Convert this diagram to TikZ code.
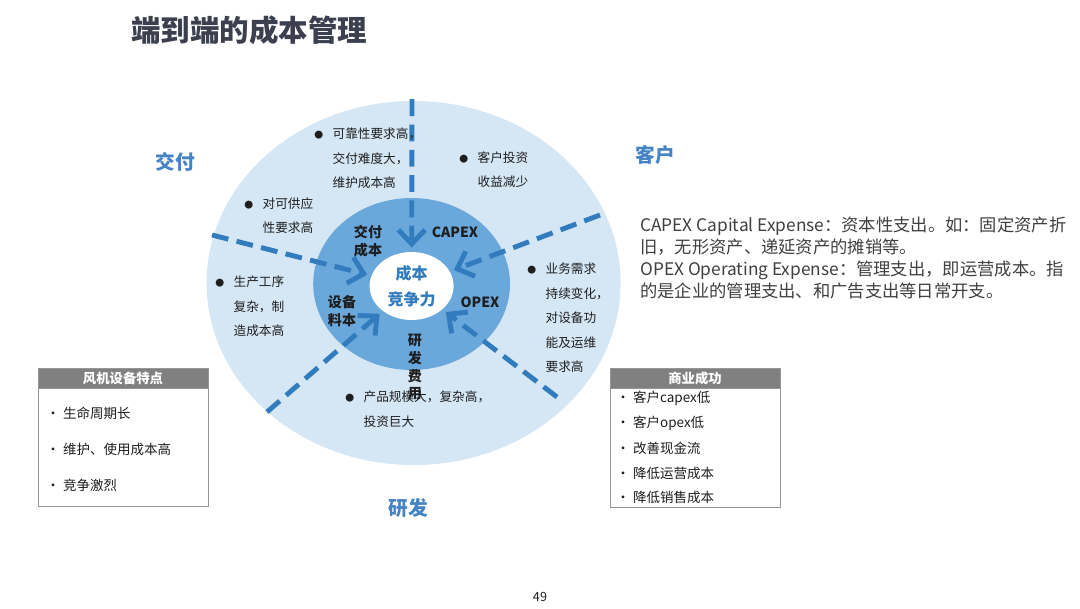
\documentclass[tikz,border=0pt]{standalone}
\usepackage{graphicx}
\usepackage{fontspec}
\setmainfont{Noto Sans CJK SC}
\usetikzlibrary{shapes.geometric,arrows.meta}

\definecolor{ringlight}{RGB}{213,231,245}
\definecolor{ringmid}{RGB}{106,168,220}
\definecolor{rayblue}{RGB}{50,124,190}
\definecolor{lblblue}{RGB}{68,132,197}
\definecolor{titlegray}{RGB}{60,64,78}
\definecolor{txtgray}{RGB}{30,30,30}
\definecolor{notegray}{RGB}{64,64,64}
\definecolor{headgray}{RGB}{128,128,128}
\definecolor{boxgray}{RGB}{150,150,150}

\newcommand{\rbul}{\makebox[1.45em][l]{\scalebox{0.7}{●}}}
\newcommand{\rind}{\hspace*{1.45em}}
\newcommand{\pbul}{\makebox[0.42cm][l]{•}}

\begin{document}
\begin{tikzpicture}[
  ringtxt/.style={anchor=north west, inner sep=0, align=left, text=txtgray,
    font=\fontsize{9}{17.35}\selectfont},
  midlbl/.style={inner sep=0, align=center, text=txtgray,
    font=\bfseries\fontsize{10}{12.8}\selectfont},
  sidelbl/.style={inner sep=0, text=lblblue, font=\bfseries\fontsize{14}{16}\selectfont},
  ray/.style={draw=rayblue, line width=3.5pt, dash pattern=on 12pt off 6pt,
    -{Straight Barb[length=10pt,width=19pt]}, shorten >=3pt},
  panel/.style={draw=boxgray, fill=white, inner sep=0, minimum width=4.25cm},
  panelhead/.style={draw=boxgray, fill=headgray, text=white, inner sep=0,
    minimum width=4.25cm, minimum height=0.5cm,
    font=\bfseries\fontsize{9.5}{11}\selectfont},
  panelitem/.style={anchor=west, inner sep=0, text=txtgray,
    font=\fontsize{9.6}{11}\selectfont}
]
  \path[use as bounding box, fill=white] (0,0) rectangle (27,15.2);

  % 标题
  \node[anchor=west, inner sep=0, text=titlegray,
    font=\bfseries\fontsize{21}{24}\selectfont] (title) at (3.27,14.45) {端到端的成本管理};

  % 三层圆
  \node[ellipse, fill=ringlight, inner sep=0, minimum width=10.35cm,
    minimum height=9.1cm] (outer) at (10.34,8.125) {};
  \node[ellipse, fill=ringmid, inner sep=0, minimum width=4.92cm,
    minimum height=4.3cm] (mid) at (10.29,8.1) {};
  \node[ellipse, fill=white, inner sep=0, minimum width=2.1cm, minimum height=1.7cm,
    align=center, text=rayblue, font=\bfseries\fontsize{11.4}{18.5}\selectfont]
    (core) at (10.29,8.05) {成本\\竞争力};

  % 箭头
  \coordinate (s1) at (10.3,12.72);
  \coordinate (s2) at (5.3,9.325);
  \coordinate (s3) at (6.675,4.9);
  \coordinate (s4) at (15.0,9.825);
  \coordinate (s5) at (13.925,5.275);
  \draw[ray] (s1) -- (core);
  \draw[ray] (s2) -- (core);
  \draw[ray] (s3) -- (core);
  \draw[ray] (s4) -- (core);
  \draw[ray] (s5) -- (core);

  % 中层标签
  \node[midlbl] (deliv) at (9.2,9.175) {交付\\成本};
  \node[midlbl] (capex) at (11.375,9.4) {CAPEX};
  \node[midlbl] (mater) at (8.55,7.425) {设备\\料本};
  \node[midlbl] (opex) at (12.0,7.65) {OPEX};

  % 外层文字
  \node[ringtxt] (rel) at (7.85,12.0) {\rbul 可靠性要求高，\\\rind 交付难度大，\\\rind 维护成本高};
  \node[ringtxt] (roi) at (11.475,11.425) {\rbul 客户投资\\\rind 收益减少};
  \node[ringtxt] (supply) at (6.1,10.275) {\rbul 对可供应\\\rind 性要求高};
  \node[ringtxt] (proc) at (5.375,8.3) {\rbul 生产工序\\\rind 复杂，制\\\rind 造成本高};
  \node[ringtxt] (demand) at (13.175,8.625) {\rbul 业务需求\\\rind 持续变化，\\\rind 对设备功\\\rind 能及运维\\\rind 要求高};
  \node[ringtxt] (scale) at (8.625,5.425) {\rbul 产品规模大，复杂高，\\\rind 投资巨大};
  \node[midlbl] (rnd) at (10.375,6.025) {研\\发\\费\\用};

  % 三方
  \node[sidelbl] (sdeliv) at (4.375,11.15) {交付};
  \node[sidelbl] (scust) at (16.375,11.325) {客户};
  \node[sidelbl] (srnd) at (10.2,2.5) {研发};

  % 说明
  \node[anchor=north west, inner sep=0, align=left, text=notegray,
    font=\fontsize{12.3}{15.6}\selectfont] (note) at (16.0,9.79)
    {CAPEX Capital Expense：资本性支出。如：固定资产折\\
     旧，无形资产、递延资产的摊销等。\\
     OPEX Operating Expense：管理支出，即运营成本。指\\
     的是企业的管理支出、和广告支出等日常开支。};

  % 风机设备特点
  \node[panel, minimum height=3.45cm] (feat) at (3.075,4.275) {};
  \node[panelhead, anchor=north] (feathead) at (feat.north) {风机设备特点};
  \node[panelitem] (f1) at (1.15,4.875) {\pbul 生命周期长};
  \node[panelitem] (f2) at (1.15,3.975) {\pbul 维护、使用成本高};
  \node[panelitem] (f3) at (1.15,3.075) {\pbul 竞争激烈};

  % 商业成功
  \node[panel, minimum height=3.475cm] (succ) at (17.375,4.2625) {};
  \node[panelhead, anchor=north] (succhead) at (succ.north) {商业成功};
  \node[panelitem] (c1) at (15.4,5.25) {\pbul 客户capex低};
  \node[panelitem] (c2) at (15.4,4.625) {\pbul 客户opex低};
  \node[panelitem] (c3) at (15.4,4.0) {\pbul 改善现金流};
  \node[panelitem] (c4) at (15.4,3.375) {\pbul 降低运营成本};
  \node[panelitem] (c5) at (15.4,2.775) {\pbul 降低销售成本};

  % 页码
  \node[inner sep=0, text=txtgray, font=\fontsize{9}{10}\selectfont] (page) at (13.5,0.275) {49};
\end{tikzpicture}
\end{document}
